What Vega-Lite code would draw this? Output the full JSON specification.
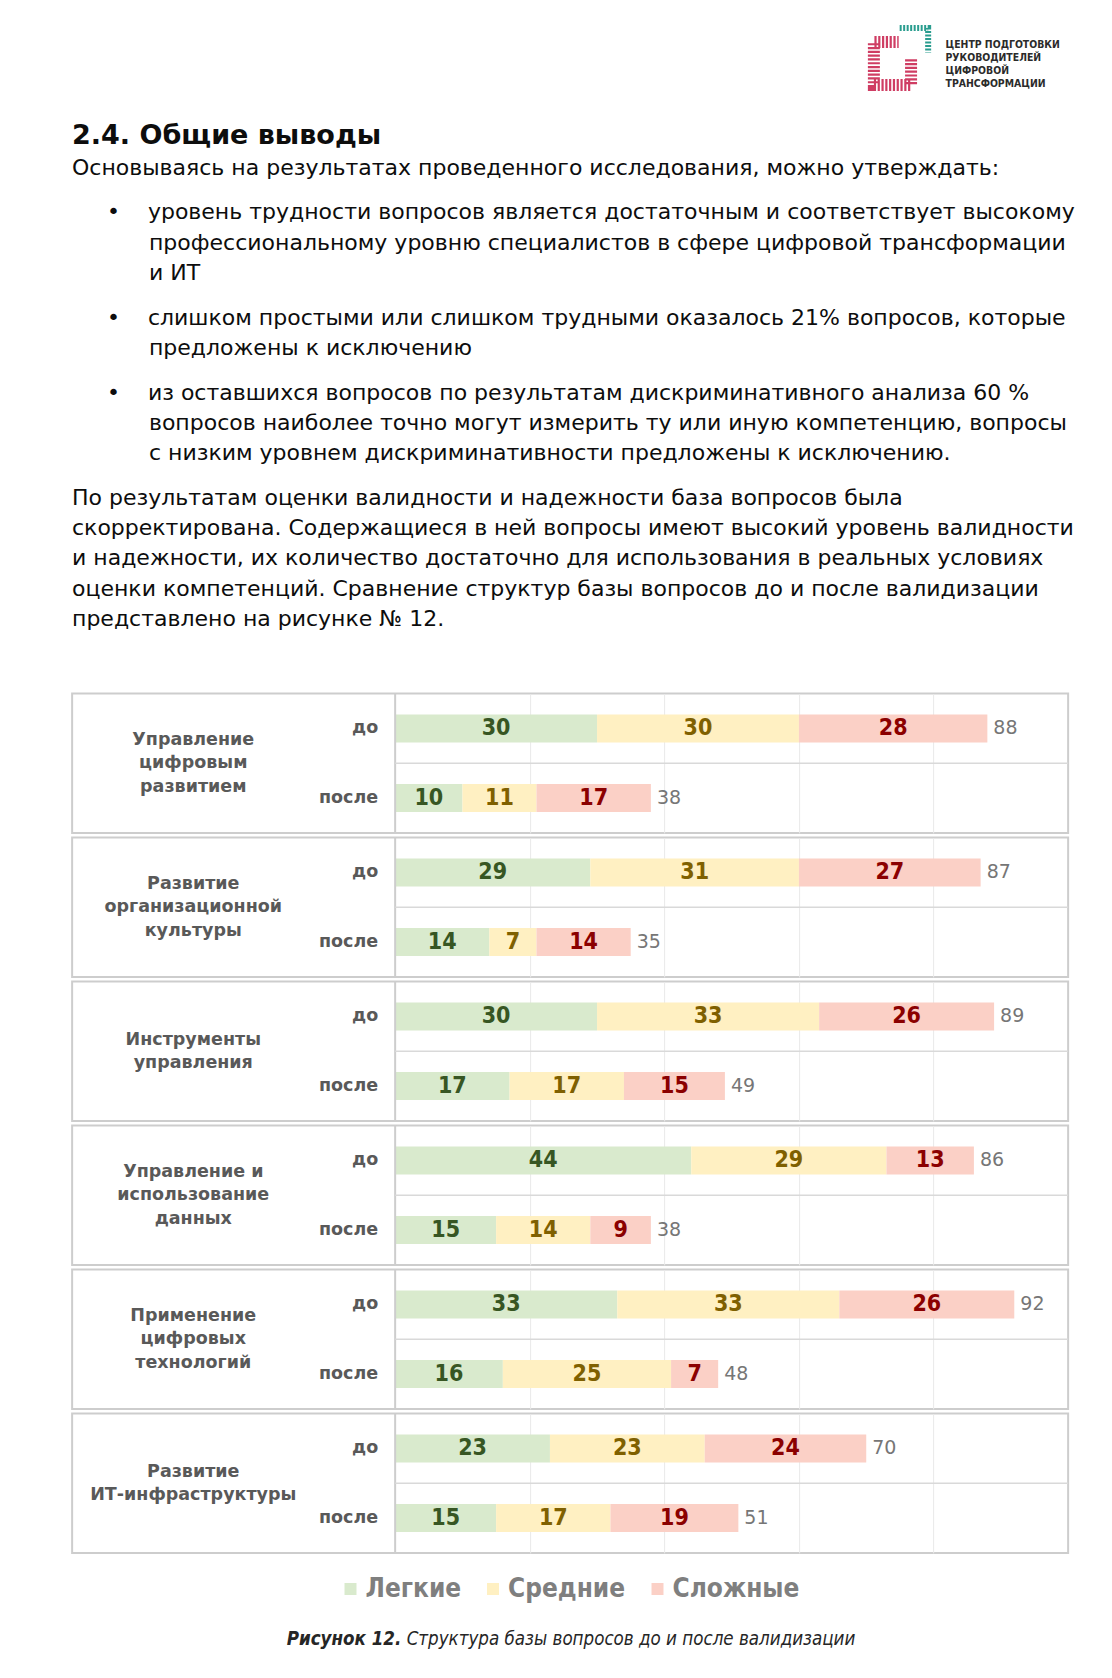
{
  "$schema": "https://vega.github.io/schema/vega-lite/v6.json",
  "background": "#ffffff",
  "padding": {"left": 71, "top": 16, "right": 0, "bottom": 0},
  "config": {
    "font": "DejaVu Sans",
    "view": {"stroke": null}
  },
  "datasets": {
    "bars": [
      {"cat": "Управление\nцифровым\nразвитием", "stage": "до", "level": "Легкие", "ord": 1, "count": 30},
      {"cat": "Управление\nцифровым\nразвитием", "stage": "до", "level": "Средние", "ord": 2, "count": 30},
      {"cat": "Управление\nцифровым\nразвитием", "stage": "до", "level": "Сложные", "ord": 3, "count": 28},
      {"cat": "Управление\nцифровым\nразвитием", "stage": "после", "level": "Легкие", "ord": 1, "count": 10},
      {"cat": "Управление\nцифровым\nразвитием", "stage": "после", "level": "Средние", "ord": 2, "count": 11},
      {"cat": "Управление\nцифровым\nразвитием", "stage": "после", "level": "Сложные", "ord": 3, "count": 17},
      {"cat": "Развитие\nорганизационной\nкультуры", "stage": "до", "level": "Легкие", "ord": 1, "count": 29},
      {"cat": "Развитие\nорганизационной\nкультуры", "stage": "до", "level": "Средние", "ord": 2, "count": 31},
      {"cat": "Развитие\nорганизационной\nкультуры", "stage": "до", "level": "Сложные", "ord": 3, "count": 27},
      {"cat": "Развитие\nорганизационной\nкультуры", "stage": "после", "level": "Легкие", "ord": 1, "count": 14},
      {"cat": "Развитие\nорганизационной\nкультуры", "stage": "после", "level": "Средние", "ord": 2, "count": 7},
      {"cat": "Развитие\nорганизационной\nкультуры", "stage": "после", "level": "Сложные", "ord": 3, "count": 14},
      {"cat": "Инструменты\nуправления", "stage": "до", "level": "Легкие", "ord": 1, "count": 30},
      {"cat": "Инструменты\nуправления", "stage": "до", "level": "Средние", "ord": 2, "count": 33},
      {"cat": "Инструменты\nуправления", "stage": "до", "level": "Сложные", "ord": 3, "count": 26},
      {"cat": "Инструменты\nуправления", "stage": "после", "level": "Легкие", "ord": 1, "count": 17},
      {"cat": "Инструменты\nуправления", "stage": "после", "level": "Средние", "ord": 2, "count": 17},
      {"cat": "Инструменты\nуправления", "stage": "после", "level": "Сложные", "ord": 3, "count": 15},
      {"cat": "Управление и\nиспользование\nданных", "stage": "до", "level": "Легкие", "ord": 1, "count": 44},
      {"cat": "Управление и\nиспользование\nданных", "stage": "до", "level": "Средние", "ord": 2, "count": 29},
      {"cat": "Управление и\nиспользование\nданных", "stage": "до", "level": "Сложные", "ord": 3, "count": 13},
      {"cat": "Управление и\nиспользование\nданных", "stage": "после", "level": "Легкие", "ord": 1, "count": 15},
      {"cat": "Управление и\nиспользование\nданных", "stage": "после", "level": "Средние", "ord": 2, "count": 14},
      {"cat": "Управление и\nиспользование\nданных", "stage": "после", "level": "Сложные", "ord": 3, "count": 9},
      {"cat": "Применение\nцифровых\nтехнологий", "stage": "до", "level": "Легкие", "ord": 1, "count": 33},
      {"cat": "Применение\nцифровых\nтехнологий", "stage": "до", "level": "Средние", "ord": 2, "count": 33},
      {"cat": "Применение\nцифровых\nтехнологий", "stage": "до", "level": "Сложные", "ord": 3, "count": 26},
      {"cat": "Применение\nцифровых\nтехнологий", "stage": "после", "level": "Легкие", "ord": 1, "count": 16},
      {"cat": "Применение\nцифровых\nтехнологий", "stage": "после", "level": "Средние", "ord": 2, "count": 25},
      {"cat": "Применение\nцифровых\nтехнологий", "stage": "после", "level": "Сложные", "ord": 3, "count": 7},
      {"cat": "Развитие\nИТ-инфраструктуры", "stage": "до", "level": "Легкие", "ord": 1, "count": 23},
      {"cat": "Развитие\nИТ-инфраструктуры", "stage": "до", "level": "Средние", "ord": 2, "count": 23},
      {"cat": "Развитие\nИТ-инфраструктуры", "stage": "до", "level": "Сложные", "ord": 3, "count": 24},
      {"cat": "Развитие\nИТ-инфраструктуры", "stage": "после", "level": "Легкие", "ord": 1, "count": 15},
      {"cat": "Развитие\nИТ-инфраструктуры", "stage": "после", "level": "Средние", "ord": 2, "count": 17},
      {"cat": "Развитие\nИТ-инфраструктуры", "stage": "после", "level": "Сложные", "ord": 3, "count": 19}
    ]
  },
  "spacing": 13.3,
  "vconcat": [
    {
      "spacing": 4,
      "hconcat": [
        {"width": 773, "height": 67, "data": {"values": []}, "mark": "text"},
        {
          "width": 60, "height": 67,
          "data": {"values": [{"part": "logo"}]},
          "layer": [
            {"mark": {"type": "point", "shape": "M0.39,0.05 L0.39,0.82 L-0.72,0.82 L-0.72,-0.46 L0.02,-0.46", "size": 4489, "filled": false, "stroke": "#cf3d63", "strokeWidth": 12, "strokeDash": [2.2, 1.6], "opacity": 1}},
            {"mark": {"type": "point", "shape": "M0.05,-0.88 L0.9,-0.88 L0.9,-0.15", "size": 4489, "filled": false, "stroke": "#2a9d8f", "strokeWidth": 6, "strokeDash": [2, 1.5], "opacity": 1}}
          ]
        },
        {
          "width": 1, "height": 41,
          "data": {"values": [{"t": "ЦЕНТР ПОДГОТОВКИ\nРУКОВОДИТЕЛЕЙ\nЦИФРОВОЙ\nТРАНСФОРМАЦИИ"}]},
          "mark": {"type": "text", "align": "left", "baseline": "middle", "lineBreak": "\n", "lineHeight": 13, "fontSize": 10.4, "fontWeight": "bold", "color": "#2b2b2b", "font": "DejaVu Sans Condensed, DejaVu Sans"},
          "encoding": {"text": {"field": "t", "type": "nominal"}}
        }
      ]
    },
    {
      "spacing": 20,
      "vconcat": [
        {
          "width": 996, "height": 1, "data": {"values": []}, "mark": "text",
          "title": {
            "text": "2.4. Общие выводы",
            "subtitle": "Основываясь на результатах проведенного исследования, можно утверждать:",
            "anchor": "start", "offset": 0,
            "fontSize": 27, "fontWeight": "bold", "color": "#0d0d0d",
            "subtitleFontSize": 22, "subtitleColor": "#0d0d0d", "subtitleFontWeight": "normal", "subtitlePadding": 8
          }
        },
        {
          "width": 996, "height": 1, "data": {"values": []}, "mark": "text",
          "title": {
            "text": [
              "\u200b\u00a0\u00a0\u00a0\u00a0\u00a0•\u00a0\u00a0\u00a0\u00a0уровень трудности вопросов является достаточным и соответствует высокому",
              "\u200b\u00a0\u00a0\u00a0\u00a0\u00a0\u00a0\u00a0\u00a0\u00a0\u00a0\u00a0профессиональному уровню специалистов в сфере цифровой трансформации",
              "\u200b\u00a0\u00a0\u00a0\u00a0\u00a0\u00a0\u00a0\u00a0\u00a0\u00a0\u00a0и ИТ"
            ],
            "anchor": "start", "offset": 0, "fontSize": 22, "fontWeight": "normal", "lineHeight": 30.4, "color": "#0d0d0d"
          }
        },
        {
          "width": 996, "height": 1, "data": {"values": []}, "mark": "text",
          "title": {
            "text": [
              "\u200b\u00a0\u00a0\u00a0\u00a0\u00a0•\u00a0\u00a0\u00a0\u00a0слишком простыми или слишком трудными оказалось 21% вопросов, которые",
              "\u200b\u00a0\u00a0\u00a0\u00a0\u00a0\u00a0\u00a0\u00a0\u00a0\u00a0\u00a0предложены к исключению"
            ],
            "anchor": "start", "offset": 0, "fontSize": 22, "fontWeight": "normal", "lineHeight": 30.4, "color": "#0d0d0d"
          }
        },
        {
          "width": 996, "height": 1, "data": {"values": []}, "mark": "text",
          "title": {
            "text": [
              "\u200b\u00a0\u00a0\u00a0\u00a0\u00a0•\u00a0\u00a0\u00a0\u00a0из оставшихся вопросов по результатам дискриминативного анализа 60 %",
              "\u200b\u00a0\u00a0\u00a0\u00a0\u00a0\u00a0\u00a0\u00a0\u00a0\u00a0\u00a0вопросов наиболее точно могут измерить ту или иную компетенцию, вопросы",
              "\u200b\u00a0\u00a0\u00a0\u00a0\u00a0\u00a0\u00a0\u00a0\u00a0\u00a0\u00a0с низким уровнем дискриминативности предложены к исключению."
            ],
            "anchor": "start", "offset": 0, "fontSize": 22, "fontWeight": "normal", "lineHeight": 30.4, "color": "#0d0d0d"
          }
        },
        {
          "width": 996, "height": 47, "data": {"values": []}, "mark": "text",
          "title": {
            "text": [
              "По результатам оценки валидности и надежности база вопросов была",
              "скорректирована. Содержащиеся в ней вопросы имеют высокий уровень валидности",
              "и надежности, их количество достаточно для использования в реальных условиях",
              "оценки компетенций. Сравнение структур базы вопросов до и после валидизации",
              "представлено на рисунке № 12."
            ],
            "anchor": "start", "offset": 0, "fontSize": 22, "fontWeight": "normal", "lineHeight": 30.4, "color": "#0d0d0d"
          }
        }
      ]
    },
    {
      "spacing": 74,
      "center": true,
      "vconcat": [
        {
          "data": {"name": "bars"},
          "facet": {
            "row": {
              "field": "cat", "type": "nominal",
              "sort": ["Управление\nцифровым\nразвитием", "Развитие\nорганизационной\nкультуры", "Инструменты\nуправления", "Управление и\nиспользование\nданных", "Применение\nцифровых\nтехнологий", "Развитие\nИТ-инфраструктуры"],
              "header": {"title": null, "labels": false}
            }
          },
          "spacing": {"row": 0},
          "spec": {
            "width": 996,
            "height": 139.3,
            "view": {"stroke": "#cdcdcd", "strokeWidth": 2},
            "layer": [
              {
                "mark": {"type": "bar", "height": 28},
                "encoding": {
                  "x": {
                    "field": "count", "type": "quantitative", "stack": "zero",
                    "scale": {"domain": [-48, 100], "nice": false, "zero": false},
                    "axis": {"values": [20, 40, 60, 80], "grid": true, "gridColor": "#e9e9e9", "gridWidth": 1, "labels": false, "ticks": false, "domain": false, "title": null}
                  },
                  "y": {"field": "stage", "type": "nominal", "sort": ["до", "после"], "scale": {"paddingInner": 0, "paddingOuter": 0}, "axis": null},
                  "order": {"field": "ord", "type": "quantitative", "sort": "ascending"},
                  "color": {
                    "field": "level", "type": "nominal", "sort": ["Легкие", "Средние", "Сложные"],
                    "scale": {"domain": ["Легкие", "Средние", "Сложные"], "range": ["#d9eacd", "#fff0c2", "#fbd0c6"]},
                    "legend": {"orient": "none", "legendX": 265.5, "legendY": 1552, "direction": "horizontal", "title": null, "symbolType": "square", "symbolSize": 144, "symbolStrokeWidth": 0, "labelFont": "DejaVu Sans Condensed, DejaVu Sans", "labelFontSize": 26, "labelFontWeight": "bold", "labelColor": "#7f7f7f", "labelOffset": 2, "columnPadding": 18.5}
                  }
                }
              },
              {
                "transform": [{"filter": "datum.stage == 'до' && datum.level == 'Легкие'"}],
                "mark": {"type": "rule", "color": "#cdcdcd", "strokeWidth": 2},
                "encoding": {"x": {"datum": 0, "type": "quantitative"}}
              },
              {
                "transform": [{"filter": "datum.stage == 'после' && datum.level == 'Легкие'"}],
                "mark": {"type": "rule", "color": "#d9d9d9", "strokeWidth": 1.5},
                "encoding": {
                  "x": {"datum": 0, "type": "quantitative"},
                  "x2": {"datum": 100},
                  "y": {"field": "stage", "type": "nominal", "sort": ["до", "после"], "bandPosition": 0}
                }
              },
              {
                "mark": {"type": "text", "font": "DejaVu Sans Condensed, DejaVu Sans", "fontSize": 23, "fontWeight": "bold", "baseline": "middle", "align": "center"},
                "encoding": {
                  "x": {"field": "count", "type": "quantitative", "stack": "zero", "bandPosition": 0.5},
                  "y": {"field": "stage", "type": "nominal", "sort": ["до", "после"]},
                  "order": {"field": "ord", "type": "quantitative", "sort": "ascending"},
                  "text": {"field": "count", "type": "quantitative"},
                  "fill": {"field": "level", "type": "nominal", "sort": ["Легкие", "Средние", "Сложные"], "scale": {"domain": ["Легкие", "Средние", "Сложные"], "range": ["#375623", "#7f6000", "#8b0000"]}, "legend": null}
                }
              },
              {
                "mark": {"type": "text", "align": "left", "baseline": "middle", "dx": 6, "fontSize": 19, "color": "#767676"},
                "encoding": {
                  "x": {"aggregate": "sum", "field": "count", "type": "quantitative"},
                  "y": {"field": "stage", "type": "nominal", "sort": ["до", "после"]},
                  "text": {"aggregate": "sum", "field": "count", "type": "quantitative"}
                }
              },
              {
                "transform": [{"filter": "datum.level == 'Легкие'"}],
                "mark": {"type": "text", "align": "right", "baseline": "middle", "dx": -17, "fontSize": 17.5, "fontWeight": "bold", "color": "#595959"},
                "encoding": {
                  "x": {"datum": 0, "type": "quantitative"},
                  "y": {"field": "stage", "type": "nominal", "sort": ["до", "после"]},
                  "text": {"field": "stage", "type": "nominal"}
                }
              },
              {
                "transform": [{"filter": "datum.stage == 'до' && datum.level == 'Легкие' && indexof(datum.cat, '\\n') != lastindexof(datum.cat, '\\n')"}],
                "mark": {"type": "text", "align": "center", "baseline": "middle", "dy": -23.5, "lineBreak": "\n", "lineHeight": 23.5, "fontSize": 17.5, "fontWeight": "bold", "color": "#595959"},
                "encoding": {
                  "x": {"datum": -30, "type": "quantitative"},
                  "text": {"field": "cat", "type": "nominal"}
                }
              },
              {
                "transform": [{"filter": "datum.stage == 'до' && datum.level == 'Легкие' && indexof(datum.cat, '\\n') == lastindexof(datum.cat, '\\n')"}],
                "mark": {"type": "text", "align": "center", "baseline": "middle", "dy": -11.75, "lineBreak": "\n", "lineHeight": 23.5, "fontSize": 17.5, "fontWeight": "bold", "color": "#595959"},
                "encoding": {
                  "x": {"datum": -30, "type": "quantitative"},
                  "text": {"field": "cat", "type": "nominal"}
                }
              }
            ]
          }
        },
        {
          "spacing": 5,
          "hconcat": [
            {"width": 1, "height": 1, "data": {"values": []}, "mark": "text",
             "title": {"text": "Рисунок 12.", "anchor": "start", "offset": 0, "font": "DejaVu Sans Condensed, DejaVu Sans", "fontSize": 18.6, "fontWeight": "bold", "fontStyle": "italic", "color": "#262626"}},
            {"width": 1, "height": 1, "data": {"values": []}, "mark": "text",
             "title": {"text": "Структура базы вопросов до и после валидизации", "anchor": "start", "offset": 0, "font": "DejaVu Sans Condensed, DejaVu Sans", "fontSize": 18.6, "fontWeight": "normal", "fontStyle": "italic", "color": "#262626"}}
          ]
        }
      ]
    }
  ]
}
